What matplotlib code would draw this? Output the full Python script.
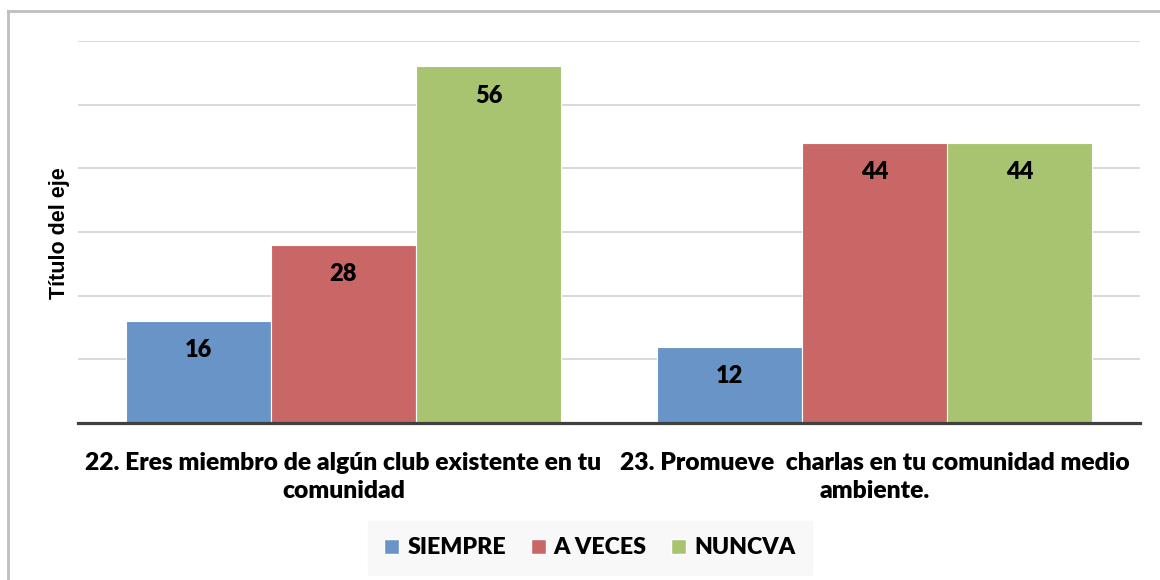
import matplotlib
matplotlib.use("Agg")
import matplotlib.pyplot as plt
from matplotlib.lines import Line2D
from matplotlib.patches import Patch
import numpy as np

categories = ["22. Eres miembro de algún club existente en tu\ncomunidad",
              "23. Promueve  charlas en tu comunidad medio\nambiente."]
series_names = ["SIEMPRE", "A VECES", "NUNCVA"]
siempre = [16, 12]
a_veces = [28, 44]
nuncva = [56, 44]
colors = ["#6894c7", "#c96767", "#a9c471"]

plt.rcParams['font.family'] = ['Lato', 'DejaVu Sans']

fig = plt.figure(figsize=(11.6, 5.8), dpi=100)
ax = fig.add_axes([78/1160, 1-423/580, 1062/1160, (423-41)/580])

x = np.arange(len(categories))
w = 0.273
series = [siempre, a_veces, nuncva]
for i, (vals, name, c) in enumerate(zip(series, series_names, colors)):
    bars = ax.bar(x + (i-1)*w, vals, width=w, color=c, edgecolor='white',
                  linewidth=0.8, label=name, zorder=2)
    for b, v in zip(bars, vals):
        ax.text(b.get_x()+b.get_width()/2, v - 4.6, str(v), ha='center', va='center',
                fontsize=17, fontweight='heavy', color='black', zorder=3)

ax.set_xlim(-0.5, 1.5)
ax.set_ylim(0, 60)
ax.set_yticks([10, 20, 30, 40, 50, 60])
ax.yaxis.grid(True, color='#d9d9d9', linewidth=1.4, zorder=0)
ax.tick_params(axis='y', length=0, labelleft=False)
ax.tick_params(axis='x', length=0, pad=21)
ax.set_xticks(x)
ax.set_xticklabels(categories, fontsize=17.7, fontweight='heavy', linespacing=1.35)
for s in ['top', 'right', 'left']:
    ax.spines[s].set_visible(False)
ax.spines['bottom'].set_color('#404040')
ax.spines['bottom'].set_linewidth(2.3)
ax.spines['bottom'].set_zorder(4)

fig.text(59/1160, 1-233/580, "Título del eje", rotation=90, ha='center', va='center',
         fontsize=15.5, fontweight='bold', family=['Liberation Sans', 'DejaVu Sans'])

handles = [Patch(facecolor=c, edgecolor='white', label=n) for c, n in zip(colors, series_names)]
leg = fig.legend(handles=handles, loc='center', bbox_to_anchor=(590/1160, 1-548/580),
                 ncol=3, frameon=True, prop={'weight': 'heavy', 'size': 16.7},
                 handlelength=0.65, handleheight=0.65, handletextpad=0.35, columnspacing=1.05,
                 borderpad=0.25)
leg.get_frame().set_facecolor('#f7f7f7')
leg.get_frame().set_edgecolor('#f7f7f7')
leg.get_frame().set_boxstyle('square', pad=0.45)

fig.add_artist(Line2D([8/1160, 8/1160], [0, 1-11/580], color='#bfbfbf', linewidth=2, transform=fig.transFigure))
fig.add_artist(Line2D([8/1160, 1], [1-11/580, 1-11/580], color='#bfbfbf', linewidth=2, transform=fig.transFigure))

fig.savefig("out.png", dpi=100)
